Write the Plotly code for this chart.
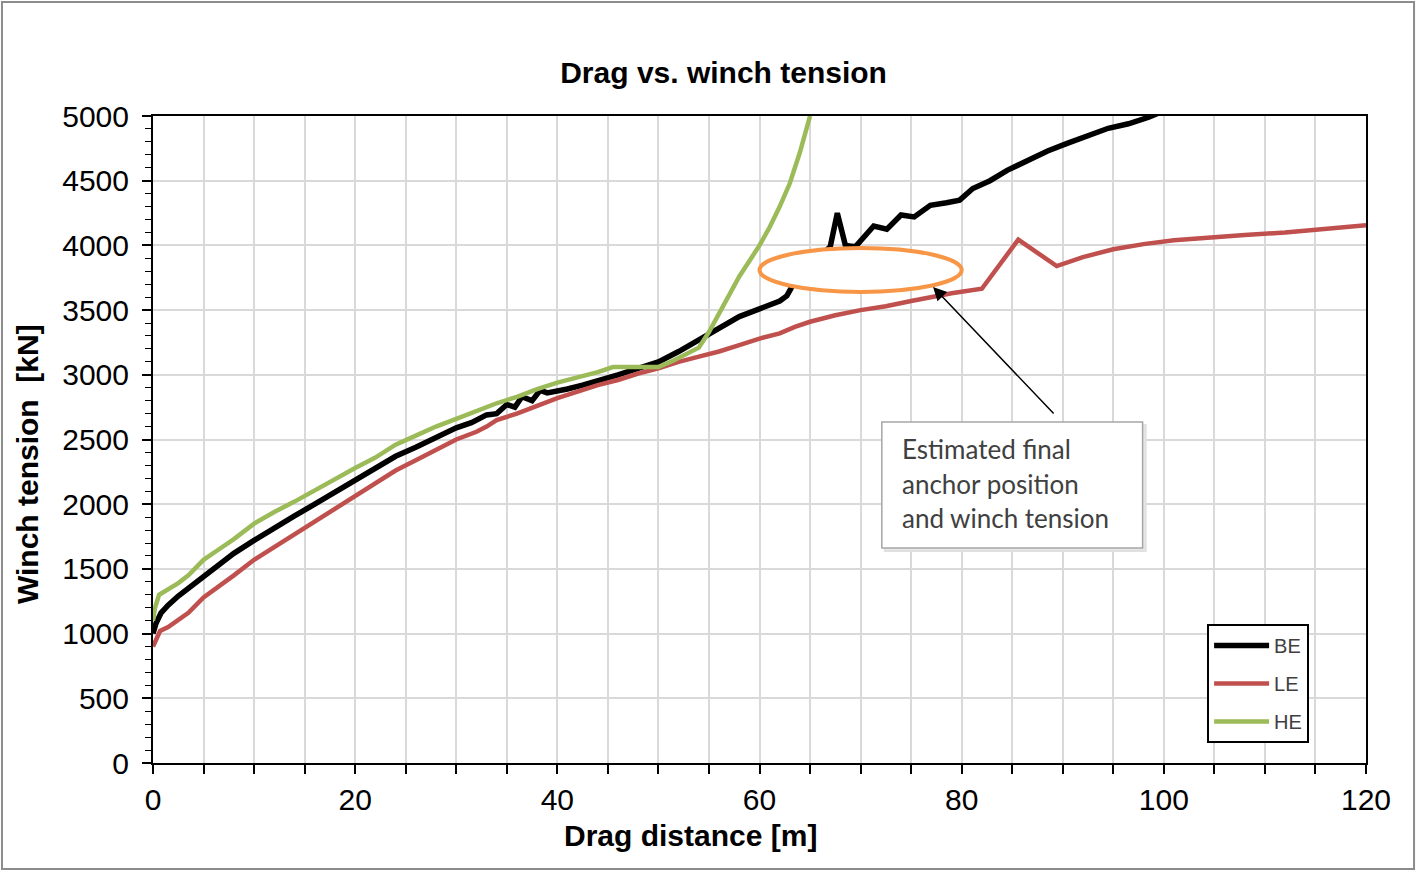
import plotly.graph_objects as go

# ---------------- data ----------------
be_x = [0, 0.3, 0.8, 1.5, 2.5, 3.5, 5, 6.5, 8, 10, 12, 14, 16, 18, 20, 22, 24, 26, 28, 30,
        31.5, 33, 34, 35, 35.8, 36.5, 37.5, 38.3, 39, 40, 41, 42.5, 44, 46, 48, 50, 52, 54,
        56, 58, 60, 62, 62.7, 63.2, 65, 67, 67.7, 68.5, 69.5, 70.3, 71.3, 72.6, 74, 75.3,
        76.9, 78.5, 79.8, 81.1, 82.8, 84.5, 86.5, 88.5, 90.5, 92.5, 94.5, 96.5, 98.5, 100]
be_y = [1000, 1080, 1160, 1220, 1290, 1350, 1450, 1540, 1620, 1720, 1820, 1910, 2000, 2090,
        2185, 2270, 2370, 2440, 2520, 2590, 2630, 2690, 2700, 2770, 2750, 2830, 2800, 2880,
        2860, 2870, 2890, 2920, 2950, 3000, 3050, 3100, 3180, 3270, 3360, 3450, 3510, 3570,
        3610, 3680, 3850, 3990, 4250, 4000, 3990, 4060, 4150, 4125, 4235, 4220, 4310, 4330,
        4350, 4440, 4500, 4580, 4660, 4730, 4790, 4850, 4905, 4940, 4990, 5040]

le_x = [0, 0.3, 0.7, 1.5, 2.5, 3.5, 5, 6.5, 8, 10, 12, 14, 16, 18, 20, 22, 24, 26, 28, 30,
        32, 33, 34, 36, 38, 40, 42, 44, 46, 48, 50, 52, 54, 56, 58, 60, 62, 63.5, 65, 67.5,
        70, 72.5, 75, 77, 79, 82, 85.6, 89.4, 92, 95, 98, 101, 104, 108, 112, 116, 120]
le_y = [900, 950, 1020, 1050, 1110, 1160, 1280, 1360, 1450, 1570, 1670, 1770, 1870, 1970,
        2070, 2160, 2260, 2340, 2420, 2500, 2560, 2600, 2650, 2700, 2760, 2820, 2870, 2920,
        2960, 3010, 3050, 3100, 3140, 3180, 3230, 3280, 3320, 3370, 3410, 3460, 3500, 3530,
        3570, 3600, 3630, 3665, 4045, 3840, 3910, 3970, 4010, 4040, 4060, 4080, 4100, 4125,
        4155]

he_x = [0, 0.2, 0.6, 1.5, 2.5, 3.5, 5, 6.5, 8, 10, 12, 14, 16, 18, 20, 22, 24, 26, 28, 30,
        32, 34, 36, 38, 40, 42, 44, 45.5, 47, 48.5, 50, 51.5, 53, 54, 55, 56, 57, 58, 59, 60,
        61, 62, 63, 64, 65]
he_y = [1100, 1200, 1300, 1340, 1390, 1450, 1570, 1650, 1730, 1850, 1940, 2020, 2110, 2200,
        2280, 2360, 2460, 2530, 2600, 2660, 2720, 2780, 2830, 2890, 2940, 2980, 3020, 3060,
        3060, 3055, 3060, 3110, 3170, 3210, 3330, 3470, 3610, 3760, 3880, 4000, 4140, 4300,
        4480, 4720, 5000]

series_names = ["BE", "LE", "HE"]
series_colors = ["#000000", "#C0504D", "#9BBB59"]

title_text = "Drag vs. winch tension"
x_title = "Drag distance [m]"
y_title = "Winch tension\u00a0\u00a0[kN]"
note_lines = ["Estimated final", "anchor position", "and winch tension"]

# ---------------- figure ----------------
FONT = "Liberation Sans, Arial, sans-serif"
fig = go.Figure()
for name, xs, ys, col, w in [(series_names[0], be_x, be_y, series_colors[0], 5.5),
                             (series_names[1], le_x, le_y, series_colors[1], 4.5),
                             (series_names[2], he_x, he_y, series_colors[2], 4.5)]:
    fig.add_trace(go.Scatter(x=xs, y=ys, mode="lines", name=name, legendgroup=name,
                             line=dict(color=col, width=w)))

grid_col = "#D9D9D9"
fig.update_layout(
    width=1416, height=872,
    margin=dict(l=153, r=50, t=116, b=109),
    paper_bgcolor="white", plot_bgcolor="white",
    font=dict(family=FONT, color="#000000"),
    title=dict(text=title_text, x=0.511, xref="container", xanchor="center",
               y=0.917, yanchor="middle",
               font=dict(family=FONT, size=30, color="#000000", weight="bold")),
    xaxis=dict(range=[0, 120], dtick=20, tick0=0, showgrid=True, gridcolor=grid_col,
               gridwidth=1.5, zeroline=False, showline=True, linecolor="black",
               linewidth=2, mirror=True, ticks="outside", ticklen=9, tickwidth=1.5,
               tickcolor="black", ticklabelstandoff=0,
               tickfont=dict(size=30, family=FONT, color="#000000"),
               minor=dict(dtick=5, showgrid=True, gridcolor=grid_col, gridwidth=1.5,
                          ticks="outside", ticklen=9, tickwidth=1.5, tickcolor="black")),
    yaxis=dict(range=[0, 5000], dtick=500, tick0=0, showgrid=True, gridcolor=grid_col,
               gridwidth=1.5, zeroline=False, showline=True, linecolor="black",
               linewidth=2, mirror=True, ticks="outside", ticklen=9, tickwidth=1.5,
               tickcolor="black", ticklabelstandoff=7,
               tickfont=dict(size=30, family=FONT, color="#000000"),
               minor=dict(dtick=100, showgrid=False, ticks="outside", ticklen=6,
                          tickwidth=1.2, tickcolor="black")),
    legend=dict(x=0.869, y=0.215, xanchor="left", yanchor="top", bgcolor="white",
                bordercolor="black", borderwidth=2, traceorder="grouped",
                tracegroupgap=9, font=dict(size=20, family=FONT, color="#404040"),
                itemwidth=55),
    showlegend=True,
)

# axis titles (placed like the reference, which is not centred on the plot area)
fig.add_annotation(text=x_title, xref="paper", yref="paper", x=0.4435, y=-0.1128,
                   xanchor="center", yanchor="middle", showarrow=False,
                   font=dict(size=30, family=FONT, color="#000000", weight="bold"))
fig.add_annotation(text=y_title, xref="paper", yref="paper", x=-0.1039, y=0.462,
                   xanchor="center", yanchor="middle", showarrow=False, textangle=-90,
                   font=dict(size=30, family=FONT, color="#000000", weight="bold"))

# ellipse marking the estimated final position (white filled, above the lines)
fig.add_shape(type="circle", xref="x", yref="y", x0=60.0, x1=80.0, y0=3640, y1=3980,
              line=dict(color="#F79646", width=4), fillcolor="white", layer="above")

# note box with shadow
fig.add_shape(type="rect", xref="x", yref="y", x0=72.4, x1=98.2, y0=1638, y1=2612,
              line=dict(color="#E0E0E0", width=2), fillcolor="#E8E8E8", layer="above")
fig.add_shape(type="rect", xref="x", yref="y", x0=72.1, x1=97.9, y0=1661, y1=2635,
              line=dict(color="#A6A6A6", width=1.5), fillcolor="white", layer="above")
for txt, yy in zip(note_lines, [2427, 2156, 1893]):
    fig.add_annotation(x=73.9, y=yy, xref="x", yref="y", text=txt, showarrow=False,
                       xanchor="left", yanchor="middle",
                       font=dict(family="Lato, Open Sans, sans-serif", size=26, color="#404040"))

# arrow
fig.add_annotation(x=77.17, y=3679, ax=89.24, ay=2689, xref="x", yref="y",
                   axref="x", ayref="y", text="", showarrow=True, arrowhead=2,
                   arrowsize=1.8, arrowwidth=1.5, arrowcolor="black")

# outer chart-area border
fig.add_shape(type="rect", xref="paper", yref="paper", x0=-0.1245, x1=1.0396,
              y0=-0.1638, y1=1.1762, line=dict(color="#8C8C8C", width=2),
              fillcolor="rgba(0,0,0,0)", layer="above")

fig.write_html("out.html", config={"displayModeBar": False},
               post_script="document.body.style.margin='0';document.body.style.overflow='hidden';")
